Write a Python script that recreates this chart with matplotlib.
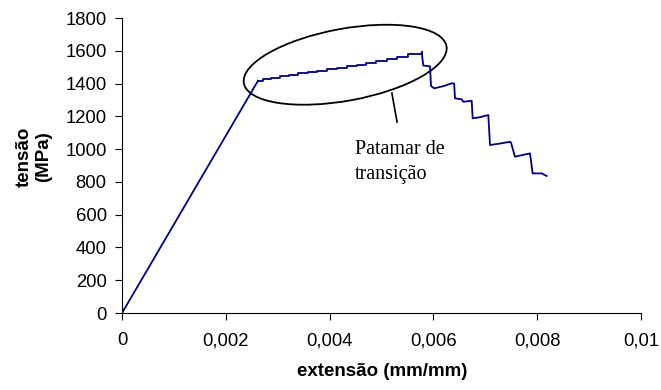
import matplotlib
matplotlib.use('Agg')
import matplotlib.pyplot as plt
from matplotlib.patches import Ellipse
from matplotlib.transforms import ScaledTranslation

plt.rcParams['font.family'] = ['Liberation Sans', 'DejaVu Sans']

# regime elastico (reta)
strain_el = [0, 0.00262]
stress_el = [0, 1417]

# patamar de transicao (degraus)
strain_plat = [0.00262, 0.00272, 0.00288, 0.00305, 0.00322, 0.00340, 0.00358, 0.00376,
               0.00395, 0.00414, 0.00433, 0.00452, 0.00471, 0.00490, 0.00510, 0.00530,
               0.00552, 0.005775]
stress_plat = [1417, 1428, 1437, 1446, 1455, 1463, 1471, 1479,
               1488, 1497, 1506, 1516, 1526, 1536, 1547, 1560,
               1578, 1591]

# ruptura progressiva
strain_rup = [0.005775, 0.005805, 0.005935, 0.005954, 0.006017, 0.00620, 0.006353, 0.00640,
              0.006416, 0.006545, 0.006576, 0.006738, 0.006757, 0.00690, 0.007058, 0.007091,
              0.00730, 0.007476, 0.007495, 0.007572, 0.007861, 0.007913, 0.008087, 0.008183]
stress_rup = [1591, 1510, 1505, 1385, 1371, 1385, 1402, 1400,
              1310, 1304, 1289, 1295, 1188, 1195, 1208, 1025,
              1035, 1045, 1040, 954, 974, 852, 852, 836]

xticks = [0, 0.002, 0.004, 0.006, 0.008, 0.01]
xtick_labels = ['0', '0,002', '0,004', '0,006', '0,008', '0,01']
yticks = list(range(0, 1801, 200))

cor = '#000080'

fig = plt.figure(figsize=(6.61, 3.90), dpi=100)
ax = fig.add_axes([0.1846, 0.1974, 0.7851, 0.7564])

ax.plot(strain_el, stress_el, color=cor, lw=1.3)
ax.plot(strain_plat, stress_plat, color=cor, lw=1.3, drawstyle='steps-post')
ax.plot(strain_rup, stress_rup, color=cor, lw=1.3)

ax.set_xlim(0, 0.01)
ax.set_ylim(0, 1800)
ax.set_xticks(xticks)
ax.set_xticklabels(xtick_labels)
ax.set_yticks(yticks)
ax.tick_params(direction='out', length=5, width=0.8, labelsize=13.3, color='black')
ax.tick_params(axis='x', pad=9)
ax.tick_params(axis='y', pad=6)
for s in ['top', 'right']:
    ax.spines[s].set_visible(False)
for s in ['left', 'bottom']:
    ax.spines[s].set_linewidth(0.8)

# elipse do patamar (em pixels, centrada em coordenadas de dados)
trans = fig.dpi_scale_trans + ScaledTranslation(0.0043, 1515, ax.transData)
ax.add_patch(Ellipse((0, 0), 2.06, 0.72, angle=10.4, fill=False, ec='black',
                     lw=1.3, transform=trans, clip_on=False))
ax.plot([0.0052, 0.0053], [1342, 1165], color='black', lw=1.2)
ax.text(0.00449, 1055, 'Patamar de\ntransição', family='Liberation Serif',
        fontsize=14.5, ha='left', va='top', linespacing=1.45)

fig.text(382 / 661, 1 - 372 / 390, 'extensão (mm/mm)', fontsize=13.5,
         fontweight='bold', ha='center', va='center')
fig.text(34 / 661, 1 - 157 / 390, 'tensão\n(MPa)', fontsize=13.5, fontweight='bold',
         ha='center', va='center', rotation=90, multialignment='center')

fig.savefig('out.png', dpi=100)
